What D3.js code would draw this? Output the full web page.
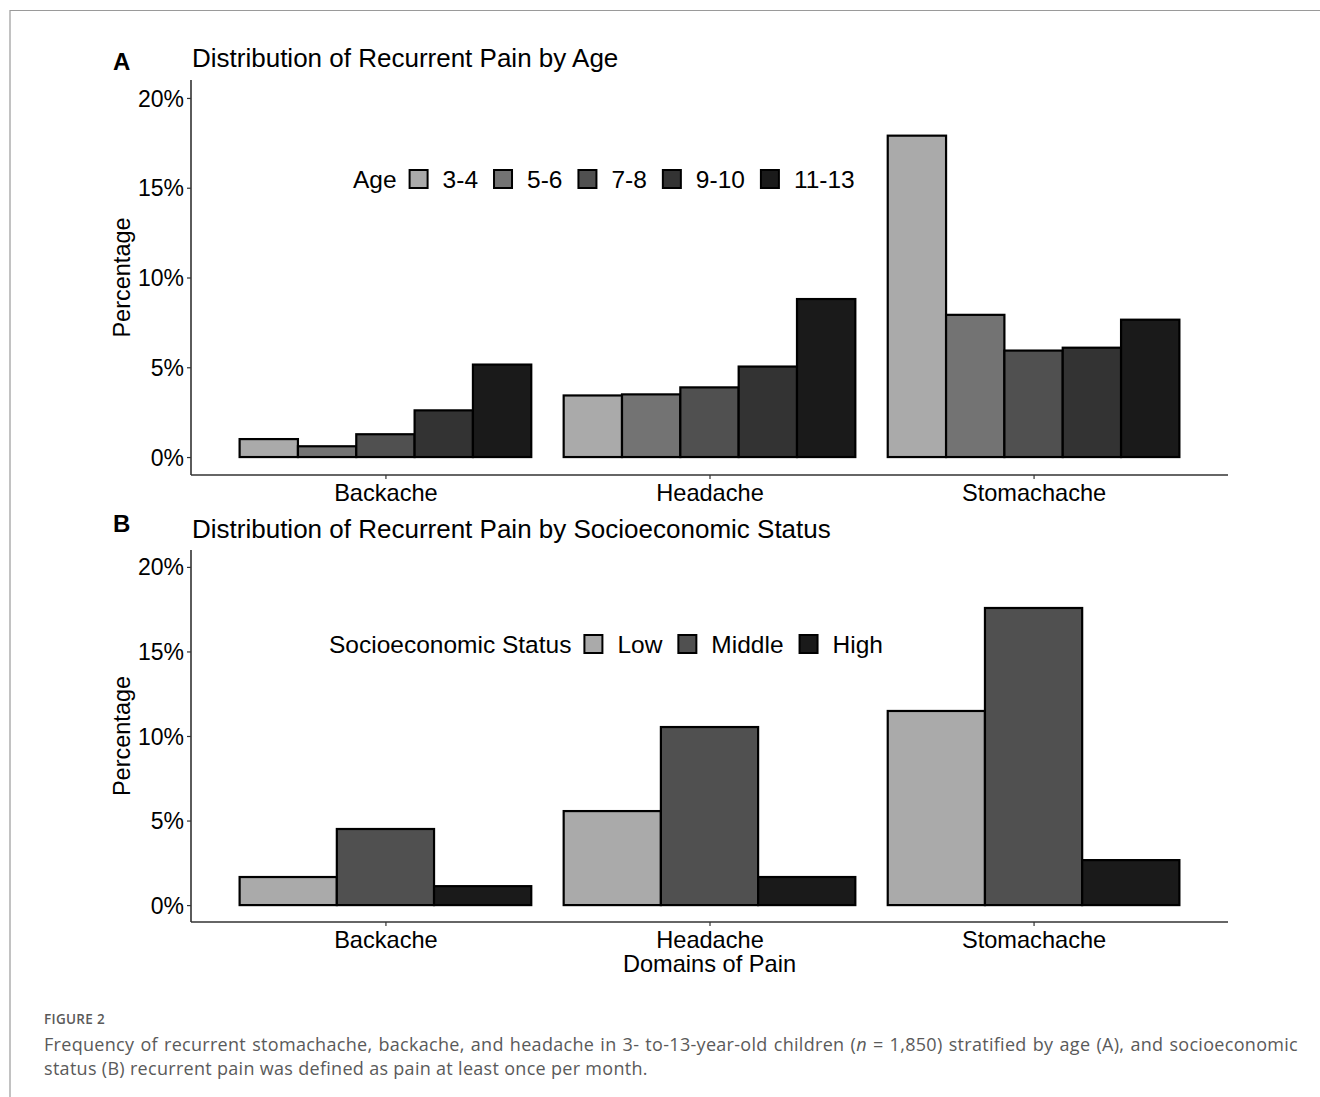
<!DOCTYPE html>
<html>
<head>
<meta charset="utf-8">
<script src="https://cdn.jsdelivr.net/npm/d3@7"></script>
<style>
  html, body { margin: 0; padding: 0; background: #fff; }
  body { width: 1320px; height: 1097px; position: relative; overflow: hidden; }
  svg { position: absolute; left: 0; top: 0; }
  #cap { position: absolute; left: 44px; top: 1010px; width: 1254px; font-family: "Open Sans", sans-serif; color: #5a5a5a; }
  #cap .lab { font-size: 13.5px; font-weight: 600; letter-spacing: 0.3px; margin-bottom: 4px; }
  #cap .txt { font-size: 18px; line-height: 24px; text-align: justify; letter-spacing: 0.3px; }
</style>
</head>
<body>
<svg id="chart" width="1320" height="1097"></svg>
<div id="cap">
  <div class="lab">FIGURE 2</div>
  <div class="txt">Frequency of recurrent stomachache, backache, and headache in 3- to-13-year-old children (<i>n</i> = 1,850) stratified by age (A), and socioeconomic status (B) recurrent pain was defined as pain at least once per month.</div>
</div>
<script>
const categories = ["Backache", "Headache", "Stomachache"];
const ageGroups = ["3-4", "5-6", "7-8", "9-10", "11-13"];
const ageColors = ["#aaaaaa", "#737373", "#505050", "#333333", "#1a1a1a"];
const ageValues = [
  [1.0, 0.6, 1.27, 2.6, 5.15],
  [3.43, 3.49, 3.88, 5.04, 8.8],
  [17.9, 7.92, 5.93, 6.09, 7.65]
];
const sesGroups = ["Low", "Middle", "High"];
const sesColors = ["#aaaaaa", "#505050", "#1a1a1a"];
const sesValues = [
  [1.66, 4.5, 1.12],
  [5.56, 10.53, 1.66],
  [11.48, 17.57, 2.66]
];
const yTicks = [0, 5, 10, 15, 20];

const svg = d3.select("#chart");
const FONT = "'Liberation Sans', Arial, sans-serif";

// frame
svg.append("path").attr("d", "M10,1097 L10,10.5 L1320,10.5")
  .attr("fill", "none").attr("stroke", "#9a9a9a").attr("stroke-width", 1.2);

function panel(opts) {
  const { top, bottom, letter, title, titleY, letterY, groups, colors, values, legendTitle, legendY, legendX, xTitle } = opts;
  const left = 191, right = 1228;
  const g = svg.append("g");
  const x = d3.scaleLinear().domain([0.4, 3.6]).range([left, right]);
  const y = d3.scaleLinear().domain([-1, 21]).range([bottom, top]);
  const n = groups.length;
  const bw = 0.9 / n;

  categories.forEach((c, ci) => {
    values[ci].forEach((v, gi) => {
      const x0 = x(ci + 1 - 0.45 + gi * bw);
      const x1 = x(ci + 1 - 0.45 + (gi + 1) * bw);
      g.append("rect")
        .attr("x", x0).attr("y", y(v))
        .attr("width", x1 - x0).attr("height", y(0) - y(v))
        .attr("fill", colors[gi]).attr("stroke", "#000").attr("stroke-width", 2.2);
    });
  });

  // y axis
  const ya = d3.axisLeft(y).tickValues(yTicks).tickSize(4).tickPadding(3).tickFormat(d => d + "%");
  const yg = g.append("g").attr("transform", `translate(${left},0)`).call(ya);
  yg.select(".domain").attr("d", `M0,${bottom}V${top}`).attr("stroke", "#333").attr("stroke-width", 1.6);
  yg.selectAll(".tick line").attr("stroke", "#333").attr("stroke-width", 1.2);
  yg.selectAll(".tick text").attr("font-family", FONT).attr("font-size", 23).attr("fill", "#000").attr("dy", "0.35em");

  // x axis
  const xa = d3.axisBottom(x).tickValues([1, 2, 3]).tickSize(4).tickPadding(5).tickFormat((d) => categories[d - 1]);
  const xg = g.append("g").attr("transform", `translate(0,${bottom})`).call(xa);
  xg.select(".domain").attr("d", `M${left},0H${right}`).attr("stroke", "#333").attr("stroke-width", 1.6);
  xg.selectAll(".tick line").attr("stroke", "#333").attr("stroke-width", 1.2);
  xg.selectAll(".tick text").attr("font-family", FONT).attr("font-size", 23.6).attr("fill", "#000").attr("dy", "0.71em");

  // y title
  g.append("text").attr("transform", `translate(130,${(top + bottom) / 2}) rotate(-90)`)
    .attr("text-anchor", "middle").attr("font-family", FONT).attr("font-size", 23.5).text("Percentage");

  // title & letter
  g.append("text").attr("x", 192).attr("y", titleY).attr("font-family", FONT).attr("font-size", 26).text(title);
  g.append("text").attr("x", 113).attr("y", letterY).attr("font-family", FONT).attr("font-size", 24).attr("font-weight", "bold").text(letter);

  // legend
  const lg = g.append("g").attr("transform", `translate(${legendX},${legendY})`);
  const lt = lg.append("text").attr("x", 0).attr("y", 0).attr("dy", "0.35em")
    .attr("font-family", FONT).attr("font-size", 24.5).text(legendTitle);
  let cx = lt.node().getComputedTextLength() + 13;
  groups.forEach((gr, gi) => {
    lg.append("rect").attr("x", cx).attr("y", -9).attr("width", 18).attr("height", 18)
      .attr("fill", colors[gi]).attr("stroke", "#000").attr("stroke-width", 2);
    const t = lg.append("text").attr("x", cx + 33).attr("y", 0).attr("dy", "0.35em")
      .attr("font-family", FONT).attr("font-size", 24.5).text(gr);
    cx += 33 + t.node().getComputedTextLength() + 16;
  });

  if (xTitle) {
    g.append("text").attr("x", x(2)).attr("y", bottom + 50).attr("text-anchor", "middle")
      .attr("font-family", FONT).attr("font-size", 23.6).text(xTitle);
  }
}

panel({ top: 80, bottom: 475, letter: "A", title: "Distribution of Recurrent Pain by Age", titleY: 67, letterY: 70,
  groups: ageGroups, colors: ageColors, values: ageValues, legendTitle: "Age", legendY: 179, legendX: 353 });
panel({ top: 550, bottom: 922, letter: "B", title: "Distribution of Recurrent Pain by Socioeconomic Status", titleY: 538, letterY: 532,
  groups: sesGroups, colors: sesColors, values: sesValues, legendTitle: "Socioeconomic Status", legendY: 644, legendX: 329, xTitle: "Domains of Pain" });
</script>
</body>
</html>
